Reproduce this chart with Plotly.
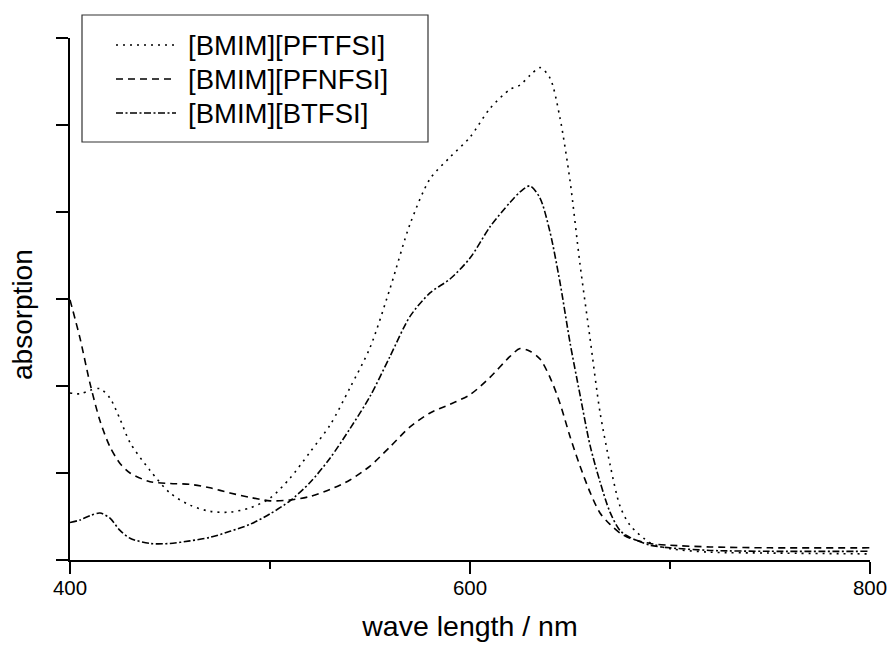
import plotly.graph_objects as go

# ---- data ----
wavelength = [400, 405, 410, 415, 420, 425, 430, 440, 450, 460, 470, 480, 490, 500,
              510, 520, 530, 540, 550, 560, 570, 580, 590, 600, 610, 620, 625, 630,
              635, 640, 645, 650, 655, 660, 665, 670, 675, 680, 690, 700, 720, 750, 800]

pftfsi = [1.92, 1.91, 1.95, 1.97, 1.86, 1.62, 1.35, 1.03, 0.77, 0.63, 0.56, 0.55, 0.60, 0.71,
          0.94, 1.24, 1.55, 1.98, 2.44, 3.12, 3.86, 4.38, 4.63, 4.86, 5.19, 5.41, 5.46, 5.57,
          5.66, 5.54, 5.08, 4.36, 3.40, 2.55, 1.70, 1.10, 0.62, 0.40, 0.20, 0.13, 0.09, 0.08, 0.07]

pfnfsi = [2.99, 2.55, 2.03, 1.60, 1.30, 1.11, 1.00, 0.90, 0.88, 0.87, 0.83, 0.77, 0.72, 0.68,
          0.69, 0.73, 0.81, 0.92, 1.08, 1.30, 1.53, 1.69, 1.79, 1.90, 2.10, 2.34, 2.43, 2.40,
          2.31, 2.10, 1.80, 1.42, 1.08, 0.78, 0.54, 0.41, 0.31, 0.25, 0.19, 0.17, 0.15, 0.14, 0.14]

btfsi = [0.43, 0.46, 0.51, 0.54, 0.48, 0.34, 0.25, 0.19, 0.19, 0.22, 0.26, 0.33, 0.41, 0.53,
         0.68, 0.89, 1.17, 1.51, 1.88, 2.34, 2.80, 3.07, 3.23, 3.47, 3.83, 4.11, 4.23, 4.30,
         4.16, 3.77, 3.19, 2.50, 1.90, 1.32, 0.90, 0.55, 0.34, 0.26, 0.17, 0.14, 0.11, 0.10, 0.10]

series_names = ["[BMIM][PFTFSI]", "[BMIM][PFNFSI]", "[BMIM][BTFSI]"]
x_tick_values = [400, 600, 800]
x_tick_labels = ["400", "600", "800"]
x_title = "wave length / nm"
y_title = "absorption"

# ---- styles ----
FONT = "Liberation Sans, Arial, sans-serif"
dashes = ["2px,5px", "7px,5px", "7px,2.5px,2px,2.5px"]
series_values = [pftfsi, pfnfsi, btfsi]

W, H = 892, 645
ML, MR, MT, MB = 70, 22, 38, 85
PW, PH = W - ML - MR, H - MT - MB


def px_x(px):
    return (px - ML) / PW


def px_y(py):
    return (H - MB - py) / PH


fig = go.Figure()
for name, vals, dash in zip(series_names, series_values, dashes):
    fig.add_trace(go.Scatter(
        x=wavelength, y=vals, name=name, mode="lines",
        line=dict(color="black", width=1.6, dash=dash, shape="spline", smoothing=0.8),
        showlegend=False,
    ))

# legend drawn as a framed box (long sample lines as in the reference)
shapes = [dict(type="rect", xref="paper", yref="paper",
               x0=px_x(82), x1=px_x(428), y0=px_y(142), y1=px_y(15),
               line=dict(color="#333333", width=1.2), fillcolor="white", layer="above")]
annotations = []
rows = [45, 79, 113]
for name, dash, row in zip(series_names, dashes, rows):
    shapes.append(dict(type="line", xref="paper", yref="paper",
                       x0=px_x(116), x1=px_x(176), y0=px_y(row), y1=px_y(row),
                       line=dict(color="black", width=1.6, dash=dash), layer="above"))
    annotations.append(dict(xref="paper", yref="paper", x=px_x(186), y=px_y(row),
                            xanchor="left", yanchor="middle", showarrow=False,
                            text=name, font=dict(family=FONT, size=27.5, color="black")))

annotations.append(dict(xref="paper", yref="paper", x=px_x(22), y=px_y(315),
                        xanchor="center", yanchor="middle", showarrow=False,
                        textangle=-90, text=y_title,
                        font=dict(family=FONT, size=28, color="black")))

fig.update_layout(
    width=W, height=H,
    margin=dict(l=ML, r=MR, t=MT, b=MB, pad=0),
    paper_bgcolor="white", plot_bgcolor="white",
    font=dict(family=FONT, color="black"),
    shapes=shapes, annotations=annotations,
    showlegend=False,
)
fig.update_xaxes(
    range=[400, 800], tickvals=x_tick_values, ticktext=x_tick_labels,
    showgrid=False, zeroline=False, showline=True, linecolor="black", linewidth=2,
    ticks="outside", ticklen=12, tickwidth=2, tickcolor="black",
    tickfont=dict(family=FONT, size=20.5, color="black"),
    ticklabelstandoff=-4,
    minor=dict(tickvals=[500, 700], ticks="outside", ticklen=7, tickwidth=2, tickcolor="black"),
    title=dict(text=x_title, font=dict(family=FONT, size=28.5, color="black"), standoff=18),
    automargin=False,
)
fig.update_yaxes(
    range=[0, 6], dtick=1, showticklabels=False,
    showgrid=False, zeroline=False, showline=True, linecolor="black", linewidth=2,
    ticks="outside", ticklen=12, tickwidth=2, tickcolor="black",
    automargin=False,
)

# place the figure flush with the window (no default 8px page margin), no modebar
fig.write_html("out.html", config={"displayModeBar": False},
               post_script="document.body.style.margin='0';")
